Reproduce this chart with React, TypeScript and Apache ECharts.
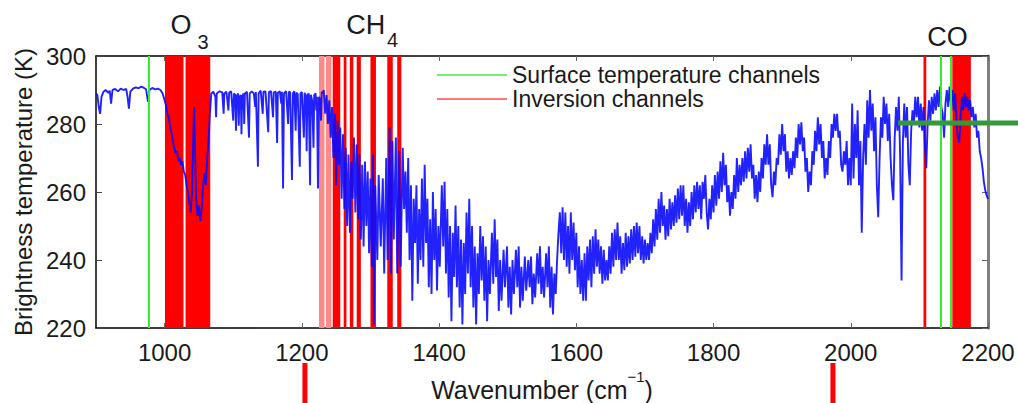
import React, { useEffect, useRef } from "react";
import * as echarts from "echarts";

const W = 1018;
const H = 403;

// axis ticks
const xTicks = [1000, 1200, 1400, 1600, 1800, 2000, 2200];
const yTicks = [220, 240, 260, 280, 300];

// spectrum, [wavenumber cm^-1, brightness temperature K]
const windowRegion: [number, number][] = [
  [900, 289], [902, 288.5], [904, 285], [906, 283], [908, 288], [911, 289.5], [914, 290], [918, 289.2],
  [920, 289.8], [922, 286], [924, 290], [928, 290.3], [932, 289.6], [936, 290.4], [940, 290], [944, 290.3],
  [946, 288], [948, 284.5], [950, 289.5], [954, 290.4], [958, 290.8], [962, 290.5], [966, 291], [970, 290.6],
  [973, 290.2], [975, 287.5], [976, 286.5], [978, 290], [982, 290.6], [986, 290.2], [990, 290.4], [994, 290],
  [997, 289],
];
const ozoneRegion: [number, number][] = [
  [998, 289], [1000, 287], [1002, 285.5], [1004, 283], [1006, 282], [1008, 279], [1010, 277.5], [1012, 275],
  [1014, 273], [1016, 271.5], [1018, 272], [1020, 269], [1022, 270], [1024, 268], [1026, 269], [1028, 266],
  [1030, 265], [1032, 262], [1034, 260], [1036, 257], [1038, 254], [1040, 260], [1042, 278], [1043, 285],
  [1044, 275], [1046, 258], [1048, 253], [1050, 256], [1052, 251.5], [1054, 255], [1056, 262], [1058, 265.5],
  [1060, 262], [1062, 270], [1064, 275], [1066, 283], [1068, 289],
];
const waterRegion: [number, number][] = [
  [1071, 289.5], [1074, 288], [1075, 282], [1076, 289], [1080, 289.6], [1084, 289.3], [1086, 283], [1087, 289],
  [1090, 289.5], [1093, 284], [1094, 289.2], [1097, 289.6], [1100, 281], [1101, 289], [1103, 288.5], [1104, 278],
  [1105, 288], [1107, 289], [1108, 279.5], [1109, 288], [1111, 288.5], [1112, 277], [1113, 288], [1115, 289],
  [1116, 280], [1117, 289], [1120, 289.5], [1123, 276], [1124, 289], [1127, 289.6], [1130, 289], [1132, 285],
  [1133, 289.4], [1136, 267.4], [1137, 289], [1140, 289.8], [1143, 283], [1144, 289.5], [1147, 289.6],
  [1151, 277.6], [1152, 289.4], [1155, 289.7], [1158, 282], [1159, 289.3], [1162, 289.5], [1164, 274.4],
  [1165, 289.2], [1168, 289.6], [1170, 286], [1171, 289.5], [1172.6, 261], [1174, 289], [1177, 289.7],
  [1180, 280], [1181, 289.5], [1183, 289.3], [1185.6, 263.5], [1187, 289], [1189, 289.6], [1191, 278],
  [1192, 289.2], [1194, 288.8], [1197, 267.4], [1198, 289], [1200, 289.4], [1203, 276], [1204, 289.2],
  [1206, 288], [1207, 272], [1208, 288.5], [1210, 289], [1212, 262], [1213, 288.6], [1215, 287], [1217, 273],
  [1218, 288.5], [1220, 289], [1221, 284], [1222, 288], [1223.5, 261], [1225, 288], [1227, 287], [1228, 281],
  [1229, 289.5],
];
const methaneRegion: [number, number][] = [
  [1230, 289], [1232, 290], [1234, 283], [1236, 288.5], [1238, 280], [1240, 287], [1242, 276], [1244, 285],
  [1246, 270], [1248, 283], [1250, 262], [1252, 281], [1254, 268], [1256, 279], [1258, 258], [1260, 277],
  [1262, 255], [1264, 273], [1266, 250], [1268, 271], [1270, 248], [1272, 269], [1274, 258], [1276, 276],
  [1278, 254], [1280, 274], [1282, 252], [1284, 271], [1286, 246], [1288, 268], [1290, 244], [1292, 269],
  [1294, 250], [1296, 266], [1298, 242], [1300, 264], [1302, 238], [1304, 271], [1305, 221], [1307, 262],
  [1310, 240], [1312, 265], [1315, 244], [1318, 264], [1320, 236], [1323, 270], [1325, 240], [1328, 279],
  [1330, 236], [1332, 275], [1334, 246], [1337, 276], [1339, 236], [1342, 272], [1344, 238], [1347, 273],
];
const minimumRegion: [number, number][] = [
  [1349, 255], [1351, 266], [1353, 248], [1355, 270], [1357, 240], [1359, 262], [1361, 228], [1363, 258],
  [1365, 245], [1367, 262], [1369, 233], [1371, 255], [1373, 240], [1375, 264], [1377, 238], [1379, 268],
  [1381, 245], [1383, 258], [1385, 232], [1387, 252], [1389, 230], [1391, 260], [1393, 240], [1395, 255],
  [1397, 231], [1399, 250], [1401, 238], [1404, 262], [1406, 244], [1408, 263], [1410, 236], [1412, 255],
  [1414, 229], [1416, 250], [1418, 222], [1420, 248], [1422, 235], [1424, 256], [1426, 232], [1428, 250],
  [1430, 226], [1432, 246], [1434, 221], [1436, 245], [1438, 230], [1440, 254], [1442, 236], [1444, 258],
  [1446, 232], [1448, 250], [1450, 226], [1452, 244], [1454, 221], [1456, 242], [1458, 230], [1460, 250],
  [1462, 234], [1464, 247], [1466, 228], [1468, 244], [1470, 222], [1472, 240], [1474, 230], [1477, 248],
  [1479, 233], [1481, 252], [1483, 235], [1485, 246], [1487, 225], [1489, 240], [1491, 228], [1494, 243],
  [1496, 232], [1499, 244], [1501, 226], [1503, 238], [1505, 224], [1507, 240], [1509, 230], [1512, 243],
  [1514, 232], [1516, 244], [1518, 226], [1520, 238], [1522, 228], [1525, 241], [1527, 231], [1530, 240],
  [1532, 232], [1534, 241], [1536, 227], [1538, 236], [1540, 229], [1543, 242], [1545, 233], [1547, 244],
  [1549, 230], [1551, 238], [1553, 229], [1556, 242], [1558, 232], [1560, 244], [1562, 226], [1564, 238],
  [1566, 224], [1568, 236], [1570, 230], [1572, 240],
];
const risingRegion: [number, number][] = [
  [1574, 248], [1576, 254], [1578, 242], [1580, 255.5], [1582, 240], [1584, 254], [1586, 238], [1588, 250],
  [1590, 236], [1592, 254], [1594, 240], [1596, 251], [1598, 237], [1600, 248], [1602, 232], [1604, 244],
  [1606, 230], [1608, 240], [1610, 228], [1612, 242], [1614, 228], [1616, 244], [1618, 234], [1620, 246],
  [1622, 232], [1624, 247], [1626, 236], [1628, 249], [1630, 238], [1632, 246], [1634, 236], [1636, 244],
  [1638, 233], [1640, 243], [1642, 234], [1644, 240], [1646, 234], [1648, 244], [1650, 236], [1652, 248],
  [1654, 238], [1656, 249], [1658, 240], [1660, 251], [1662, 240], [1664, 247], [1666, 236], [1668, 245],
  [1670, 237], [1672, 248], [1674, 238], [1676, 247], [1678, 239], [1680, 249], [1682, 240], [1684, 250],
  [1686, 241], [1688, 251], [1690, 242], [1692, 250], [1694, 240], [1696, 247], [1698, 239], [1700, 246],
  [1702, 240], [1704, 245], [1706, 240], [1708, 248], [1710, 242], [1712, 252], [1714, 244], [1716, 255],
  [1718, 246], [1720, 258], [1722, 248], [1724, 260], [1726, 250], [1728, 256], [1730, 246], [1732, 255],
  [1734, 247], [1736, 258], [1738, 249], [1740, 257], [1742, 250], [1744, 259], [1746, 251], [1748, 261],
  [1750, 252], [1752, 262], [1754, 253], [1756, 262], [1758, 250], [1760, 258], [1762, 248], [1764, 257],
  [1766, 250], [1768, 260], [1770, 252], [1772, 262], [1774, 254], [1776, 263], [1778, 255], [1780, 262],
  [1782, 252], [1784, 263], [1786, 258], [1788, 265], [1790, 254], [1792, 249], [1794, 258], [1796, 252],
  [1798, 262], [1800, 254], [1802, 265], [1804, 256], [1806, 266], [1808, 258], [1810, 269], [1812, 260],
  [1814, 271.5], [1816, 262], [1818, 268], [1820, 257], [1822, 262], [1824, 253], [1826, 260], [1828, 255],
  [1830, 265], [1832, 258], [1834, 270], [1836, 260], [1838, 268], [1840, 262], [1842, 270], [1844, 263],
  [1846, 272], [1848, 264], [1850, 273], [1852, 266], [1854, 274], [1856, 264], [1858, 268], [1860, 258],
  [1862, 265], [1864, 257], [1866, 266], [1868, 260], [1870, 270], [1872, 264], [1874, 274], [1876, 268],
  [1878, 277], [1880, 268], [1882, 274], [1884, 262], [1886, 258.5], [1888, 266], [1890, 262], [1892, 270],
  [1894, 268], [1896, 277], [1898, 271], [1900, 280], [1902, 272], [1904, 277], [1906, 266], [1908, 272],
  [1910, 264], [1912, 270], [1914, 265], [1916, 272], [1918, 267], [1920, 276], [1922, 270], [1924, 280],
  [1926, 274], [1928, 280.5], [1930, 272], [1932, 276], [1934, 266], [1936, 270], [1938, 260], [1940, 266],
  [1942, 262], [1944, 272], [1946, 268], [1948, 278], [1950, 272], [1952, 282], [1954, 274], [1956, 280],
  [1958, 270], [1960, 275], [1962, 264], [1964, 270], [1966, 265], [1968, 275], [1970, 270], [1972, 280],
  [1974, 276], [1976, 283], [1978, 278], [1980, 283], [1982, 276], [1984, 278], [1986, 268], [1988, 266],
  [1990, 272], [1992, 268], [1994, 275], [1996, 262], [1998, 270],
];
const carbonMonoxideRegion: [number, number][] = [
  [2000, 262], [2002, 286], [2004, 264], [2006, 280], [2008, 270], [2010, 284], [2012, 262], [2014, 275],
  [2016, 248], [2018, 270], [2020, 280], [2022, 268], [2024, 287], [2026, 276], [2028, 290], [2030, 278],
  [2032, 286], [2034, 272], [2036, 282], [2038, 262], [2040, 252.6], [2042, 270], [2044, 282], [2046, 276],
  [2048, 288], [2050, 280], [2052, 286], [2054, 275], [2056, 283], [2058, 270], [2060, 262], [2062, 257.6],
  [2064, 276], [2066, 285], [2068, 278], [2070, 288], [2072, 270], [2074, 234], [2076, 275], [2078, 286],
  [2080, 276], [2082, 285], [2084, 268], [2086, 262], [2088, 278], [2090, 284], [2092, 280], [2094, 288],
  [2096, 282], [2098, 288], [2100, 279], [2102, 286], [2104, 278], [2106, 285], [2108, 274], [2110, 267],
  [2112, 280], [2114, 287], [2116, 281], [2118, 288], [2120, 283], [2122, 289], [2124, 284], [2126, 290],
  [2128, 285], [2130, 291], [2132, 285], [2134, 283], [2136, 276], [2138, 286], [2140, 290], [2142, 285],
  [2144, 291], [2146, 286], [2148, 290], [2150, 284], [2152, 289], [2154, 281], [2156, 276], [2158, 274.5],
  [2160, 282], [2162, 288], [2164, 284], [2166, 289], [2168, 285], [2170, 288], [2172, 284], [2174, 287],
  [2176, 282], [2178, 285], [2180, 279], [2182, 283], [2184, 276], [2186, 278], [2188, 272], [2190, 270],
  [2192, 267], [2194, 263], [2196, 260.5], [2198, 259], [2200, 258],
];

// channel selections (wavenumber ranges / positions)
const inversionBands: [number, number][] = [
  [1000.5, 1027.5], [1030.5, 1066.5], [1245, 1256], [1261, 1265], [1270, 1275], [1280, 1286],
  [1300, 1308], [1324.5, 1332.5], [1339, 1345], [2106, 2110], [2148, 2175],
];
const inversionBandsPale: [number, number][] = [[1225, 1233], [1235, 1243]];
const surfaceChannels = [977, 2130.5, 2145];

// annotations
const tickMarkers = [1204.5, 1974];
const greenBarStart = 2069;
const greenBarTemp = 280.3;
const gasLabels = [
  { main: "O", sub: "3", wavenumber: 1024, temperature: 309, subDx: 22, subDy: 17 },
  { main: "CH", sub: "4", wavenumber: 1293, temperature: 309, subDx: 27, subDy: 15 },
  { main: "CO", sub: "", wavenumber: 2141, temperature: 305.6, subDx: 0, subDy: 0 },
];

const FONT = "'Liberation Sans', Arial, Helvetica, sans-serif";

export default function App() {
  const ref = useRef<HTMLDivElement>(null);
  useEffect(() => {
    const chart = echarts.init(ref.current!, null, { renderer: "svg" });
    const spectrum = [
      ...windowRegion, ...ozoneRegion, ...waterRegion, ...methaneRegion,
      ...minimumRegion, ...risingRegion, ...carbonMonoxideRegion,
    ];
    const axisBase = {
      type: "value",
      splitLine: { show: false },
    };
    chart.setOption({
      animation: false,
      backgroundColor: "#ffffff",
      textStyle: { fontFamily: FONT },
      grid: { left: 96, right: 30, top: 56, bottom: 75, containLabel: false, outerBoundsMode: "none" },
      legend: {
        orient: "vertical",
        left: 437,
        top: 63,
        icon: "rect",
        itemWidth: 70,
        itemHeight: 2,
        itemGap: 0,
        padding: 0,
        selectedMode: false,
        textStyle: { fontFamily: FONT, fontSize: 23, color: "#1a1a1a", lineHeight: 24 },
        data: [
          { name: "Surface temperature channels", itemStyle: { color: "#77ee77" } },
          { name: "Inversion channels", itemStyle: { color: "#ff7777" } },
        ],
      },
      xAxis: [
        {
          ...axisBase,
          min: 900,
          max: 2200,
          position: "bottom",
          axisLine: { show: true, lineStyle: { color: "#000", width: 1.5 } },
          axisTick: { show: true, inside: true, length: 5, customValues: xTicks, lineStyle: { color: "#666" } },
          axisLabel: {
            customValues: xTicks,
            fontSize: 24,
            color: "#1a1a1a",
            margin: 12,
            fontFamily: FONT,
            formatter: (v: number) => String(v),
          },
          name: "{m|Wavenumber (cm}{s|−1}{m|)}",
          nameLocation: "middle",
          nameGap: 39,
          nameTextStyle: {
            rich: {
              m: { fontSize: 25, lineHeight: 25, verticalAlign: "bottom", color: "#1a1a1a", fontFamily: FONT },
              s: {
                fontSize: 15,
                lineHeight: 15,
                padding: [0, 0, 19, 0],
                verticalAlign: "bottom",
                color: "#1a1a1a",
                fontFamily: FONT,
              },
            },
          },
        },
        {
          ...axisBase,
          min: 900,
          max: 2200,
          position: "top",
          axisLine: { show: true, lineStyle: { color: "#000", width: 1.5 } },
          axisTick: { show: true, inside: true, length: 5, customValues: xTicks, lineStyle: { color: "#666" } },
          axisLabel: { show: false },
        },
      ],
      yAxis: [
        {
          ...axisBase,
          min: 220,
          max: 300,
          interval: 20,
          position: "left",
          axisLine: { show: true, lineStyle: { color: "#000", width: 1.5 } },
          axisTick: { show: true, inside: true, length: 6, lineStyle: { color: "#444" } },
          axisLabel: { fontSize: 24, color: "#1a1a1a", margin: 10, fontFamily: FONT },
          name: "Brightness temperature (K)",
          nameLocation: "middle",
          nameGap: 57,
          nameTextStyle: { fontSize: 24, color: "#1a1a1a", fontFamily: FONT },
        },
        {
          ...axisBase,
          min: 220,
          max: 300,
          interval: 20,
          position: "right",
          axisLine: { show: true, lineStyle: { color: "#808080", width: 3 } },
          axisTick: { show: true, inside: true, length: 6, lineStyle: { color: "#666" } },
          axisLabel: { show: false },
        },
      ],
      series: [
        {
          name: "Inversion channels",
          type: "line",
          data: [],
          silent: true,
          itemStyle: { color: "#ff7777" },
          lineStyle: { color: "#ff7777" },
          z: 1,
          markArea: {
            silent: true,
            itemStyle: { color: "#ff0000" },
            data: [
              ...inversionBands.map(([a, b]) => [
                { xAxis: a, itemStyle: { color: "#ff0000" } },
                { xAxis: b },
              ]),
              ...inversionBandsPale.map(([a, b]) => [
                { xAxis: a, itemStyle: { color: "#ff8a8a" } },
                { xAxis: b },
              ]),
            ],
          },
        },
        {
          name: "Surface temperature channels",
          type: "line",
          data: [],
          silent: true,
          itemStyle: { color: "#77ee77" },
          lineStyle: { color: "#77ee77" },
          z: 2,
          markLine: {
            silent: true,
            symbol: "none",
            label: { show: false },
            lineStyle: { color: "#33ee33", width: 2, type: "solid" },
            data: surfaceChannels.map((v) => ({ xAxis: v })),
          },
        },
        {
          name: "Spectrum",
          type: "line",
          data: spectrum,
          showSymbol: false,
          silent: true,
          clip: true,
          z: 3,
          lineStyle: { color: "#0a0aff", width: 1.9, opacity: 0.9 },
        },
      ],
    });

    const px = (v: number) => chart.convertToPixel({ xAxisIndex: 0 }, v) as number;
    const py = (v: number) => chart.convertToPixel({ yAxisIndex: 0 }, v) as number;
    const graphics: any[] = [];
    tickMarkers.forEach((v) => {
      graphics.push({
        type: "rect",
        shape: { x: px(v) - 2.5, y: 363, width: 5, height: 40 },
        style: { fill: "#ff0000" },
        z: 10,
      });
    });
    graphics.push({
      type: "line",
      shape: { x1: px(greenBarStart), y1: py(greenBarTemp), x2: W, y2: py(greenBarTemp) },
      style: { stroke: "#33993a", lineWidth: 5 },
      z: 10,
    });
    gasLabels.forEach((g) => {
      const x = px(g.wavenumber);
      const y = py(g.temperature);
      graphics.push({
        type: "text",
        x,
        y,
        style: {
          text: g.main,
          font: `27px ${FONT}`,
          fill: "#1a1a1a",
          align: "center",
          verticalAlign: "middle",
        },
        z: 10,
      });
      if (g.sub) {
        graphics.push({
          type: "text",
          x: x + g.subDx,
          y: y + g.subDy,
          style: {
            text: g.sub,
            font: `20px ${FONT}`,
            fill: "#1a1a1a",
            align: "center",
            verticalAlign: "middle",
          },
          z: 10,
        });
      }
    });
    chart.setOption({ graphic: graphics });

    return () => chart.dispose();
  }, []);

  return (
    <div
      ref={ref}
      style={{ position: "fixed", left: 0, top: 0, width: W, height: H, background: "#fff" }}
    />
  );
}
